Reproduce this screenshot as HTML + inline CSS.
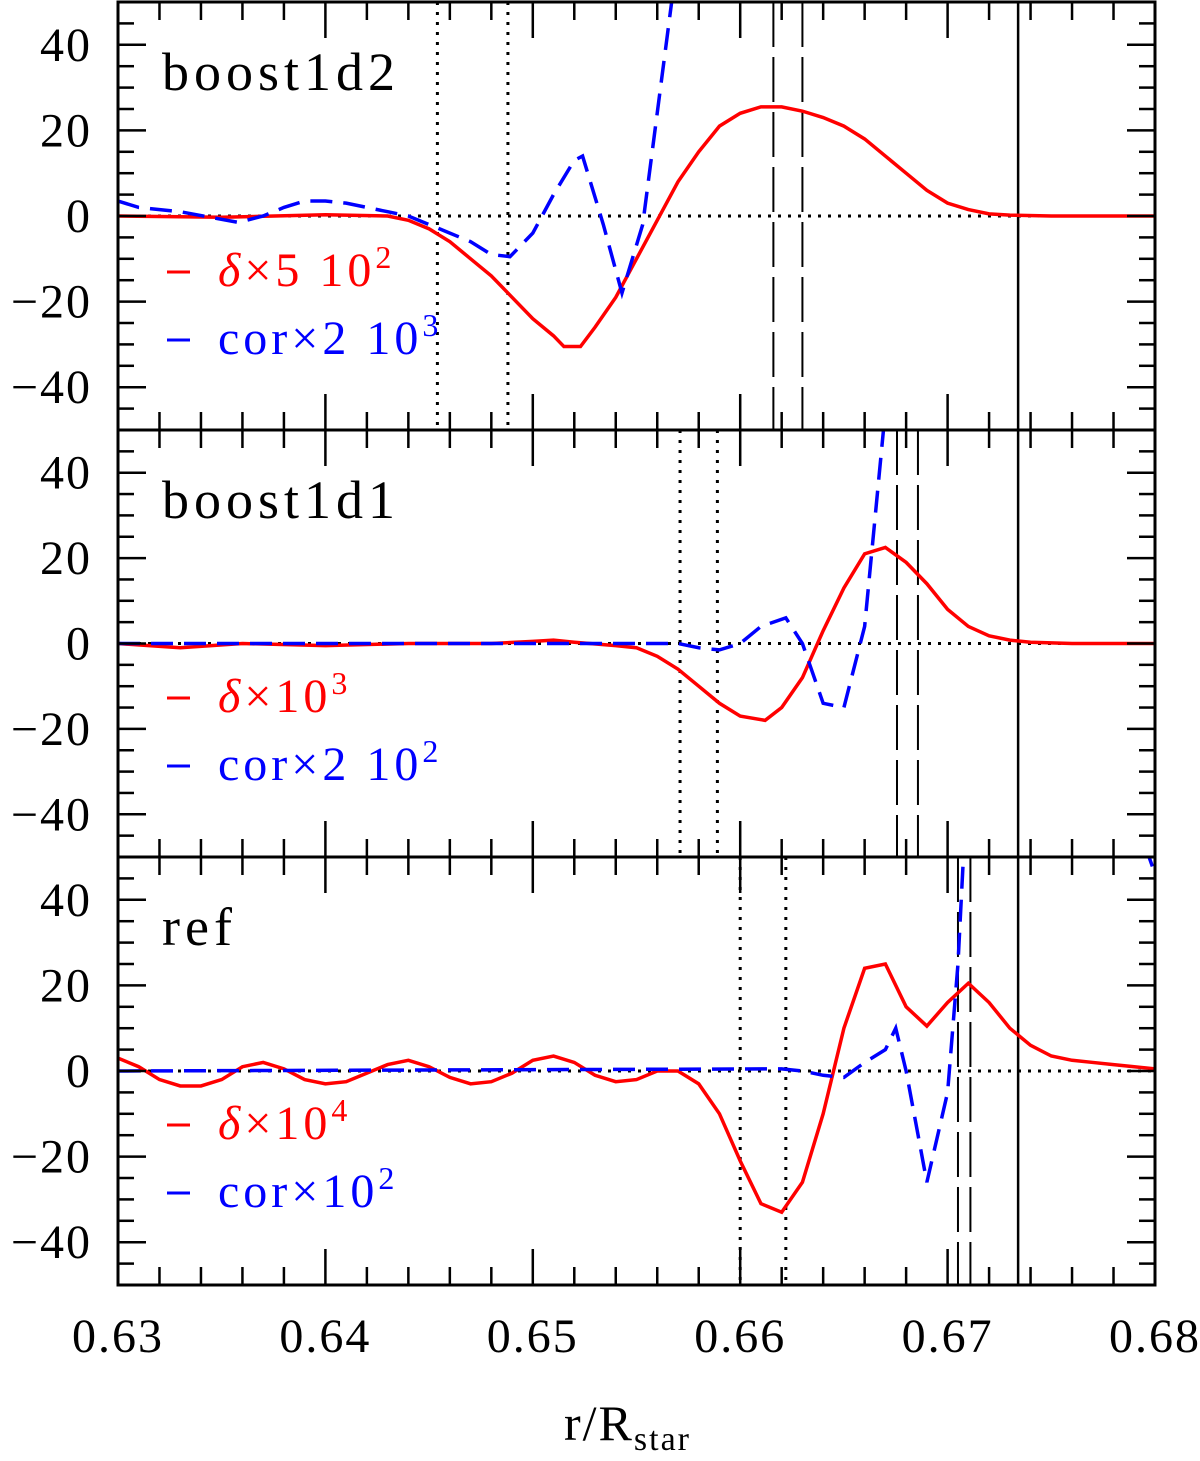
<!DOCTYPE html>
<html><head><meta charset="utf-8"><style>
html,body{margin:0;padding:0;background:#fff}
svg{display:block}
text{font-family:"Liberation Serif",serif}
</style></head><body>
<svg id="chart" width="1200" height="1461" viewBox="0 0 1200 1461" xmlns="http://www.w3.org/2000/svg"></svg>
<script>
// ---- data ----
const topRedR = [0.630,0.635,0.640,0.643,0.644,0.645,0.646,0.647,0.648,0.649,0.650,0.651,0.6515,0.6523,0.653,0.654,0.655,0.656,0.657,0.658,0.659,0.660,0.661,0.662,0.663,0.664,0.665,0.666,0.667,0.668,0.669,0.670,0.671,0.672,0.673,0.675,0.680];
const topRedV = [0,-0.3,0.3,0,-1,-3,-6,-10,-14,-19,-24,-28,-30.5,-30.5,-26,-19,-10,-1,8,15,21,24,25.5,25.5,24.5,23,21,18,14,10,6,3,1.5,0.5,0.2,0,0];
const topBlueR = [0.630,0.631,0.633,0.6358,0.637,0.638,0.639,0.640,0.641,0.642,0.643,0.644,0.645,0.646,0.647,0.648,0.6489,0.650,0.651,0.652,0.6524,0.6534,0.6543,0.6553,0.6575];
const topBlueV = [3.5,2,1,-1.5,0,2,3.5,3.5,3,2,1,0,-2,-4,-6,-9,-9.5,-4,5,13,14,-2,-18,-2,80];
const midRedR = [0.630,0.633,0.636,0.640,0.644,0.648,0.650,0.651,0.652,0.654,0.655,0.656,0.657,0.658,0.659,0.660,0.6612,0.662,0.663,0.664,0.665,0.666,0.667,0.668,0.669,0.670,0.671,0.672,0.673,0.674,0.676,0.680];
const midRedV = [0,-1,0,-0.5,0,0,0.5,0.8,0.3,-0.5,-1,-3,-6,-10,-14,-17,-18,-15,-8,3,13,21,22.5,19,14,8,4,1.8,0.8,0.3,0,0];
const midBlueR = [0.630,0.657,0.658,0.659,0.660,0.661,0.6622,0.663,0.664,0.665,0.666,0.6675];
const midBlueV = [0,0,-1,-1.5,0,4,6,0,-14,-15,4,80];
const botRedR = [0.630,0.631,0.632,0.633,0.634,0.635,0.636,0.637,0.638,0.639,0.640,0.641,0.642,0.643,0.644,0.645,0.646,0.647,0.648,0.649,0.650,0.651,0.652,0.653,0.654,0.655,0.656,0.657,0.658,0.659,0.660,0.661,0.662,0.663,0.664,0.665,0.666,0.667,0.668,0.669,0.670,0.671,0.672,0.673,0.674,0.675,0.676,0.677,0.678,0.679,0.680];
const botRedV = [3,1,-2,-3.5,-3.5,-2,1,2,0.5,-2,-3,-2.5,-0.5,1.5,2.5,1,-1.5,-3,-2.5,-0.5,2.5,3.5,2,-1,-2.5,-2,0,0,-3,-10,-21,-31,-33,-26,-10,10,24,25,15,10.5,16,20.5,16,10,6,3.5,2.5,2,1.5,1,0.5];
const botBlueR = [0.630,0.662,0.663,0.664,0.665,0.666,0.667,0.6675,0.668,0.669,0.670,0.6705,0.6715,0.675,0.679,0.680];
const botBlueV = [0,0.5,0,-1,-1.5,2,5,10,0,-26,-5,25,120,200,60,46];
const panelNames = ["boost1d2","boost1d1","ref"];
const legendRed = [["δ","×5 10","2"],["δ","×10","3"],["δ","×10","4"]];
const legendBlue = [["","cor×2 10","3"],["","cor×2 10","2"],["","cor×10","2"]];
const dottedR = [[0.6454,0.6488],[0.6571,0.6589],[0.6600,0.6622]];
const dashedR = [[0.6616,0.6630],[0.66756,0.66857],[0.6705,0.6711]];
const solidR = [0.6734,0.6734,0.6734];
const xTicks = ["0.63","0.64","0.65","0.66","0.67","0.68"];
const yTicks = [-40,-20,0,20,40];

// ---- layout ----
const NS="http://www.w3.org/2000/svg";
const svg=document.getElementById('chart');
const X0=118,X1=1155,xmin=0.63,xmax=0.68;
const panels=[{top:2,bot:430},{top:430,bot:857},{top:857,bot:1285}];
const xs=r=>X0+(r-xmin)/(xmax-xmin)*(X1-X0);
function mk(tag,attrs,parent){const e=document.createElementNS(NS,tag);for(const k in attrs)e.setAttribute(k,attrs[k]);(parent||svg).appendChild(e);return e;}
const series=[[topRedR,topRedV,topBlueR,topBlueV],[midRedR,midRedV,midBlueR,midBlueV],[botRedR,botRedV,botBlueR,botBlueV]];

panels.forEach((p,i)=>{
  const ys=v=>p.bot-(v+50)/100*(p.bot-p.top);
  const g=mk('g',{});
  
  
  const cp=mk('clipPath',{id:'cp'+i},g);
  mk('rect',{x:X0,y:p.top,width:X1-X0,height:p.bot-p.top},cp);
  const z=mk('line',{x1:X0,x2:X1,y1:ys(0),y2:ys(0),stroke:'#000','stroke-width':3,'stroke-dasharray':'3 7'},g);
  
  
  dottedR[i].forEach(r=>{const l=mk('line',{x1:xs(r),x2:xs(r),y1:p.top,y2:p.bot,stroke:'#000','stroke-width':3,'stroke-dasharray':'3 7'},g);
    
    });
  dashedR[i].forEach(r=>{const l=mk('line',{x1:xs(r),x2:xs(r),y1:p.top,y2:p.bot,stroke:'#000','stroke-width':2,'stroke-dasharray':'45 10'},g);
    
    });
  const sl=mk('line',{x1:xs(solidR[i]),x2:xs(solidR[i]),y1:p.top,y2:p.bot,stroke:'#000','stroke-width':2.5},g);
  
  
  const [rr,rv,br,bv]=series[i];
  const rp=mk('polyline',{points:rr.map((r,k)=>xs(r)+','+ys(rv[k])).join(' '),fill:'none',stroke:'#ff0000','stroke-width':3.5,'clip-path':'url(#cp'+i+')'},g);
  
  
  const bp=mk('polyline',{points:br.map((r,k)=>xs(r)+','+ys(bv[k])).join(' '),fill:'none',stroke:'#0000ff','stroke-width':3.5,'stroke-dasharray':'22 11','clip-path':'url(#cp'+i+')'},g);
  
  
  for(let v=-50;v<=50;v+=5){const y=ys(v);const maj=v%20===0;const L=maj?28:16;
    mk('line',{x1:X0,x2:X0+L,y1:y,y2:y,stroke:'#000','stroke-width':2.5},g);
    mk('line',{x1:X1-L,x2:X1,y1:y,y2:y,stroke:'#000','stroke-width':2.5},g);}
  for(let k=0;k<=25;k++){const x=xs(xmin+k*0.002);const maj=k%5===0;const L=maj?36:18;
    mk('line',{x1:x,x2:x,y1:p.top,y2:p.top+L,stroke:'#000','stroke-width':2.5},g);
    mk('line',{x1:x,x2:x,y1:p.bot-L,y2:p.bot,stroke:'#000','stroke-width':2.5},g);}
  yTicks.forEach(v=>{const t=mk('text',{x:92,y:ys(v)+16,'text-anchor':'end','font-size':48,'letter-spacing':2},g);
    t.textContent=(v<0?'\u2212':'')+Math.abs(v);
    
    });
  const frame=mk('rect',{x:X0,y:p.top,width:X1-X0,height:p.bot-p.top,fill:'none',stroke:'#000','stroke-width':3},g);
  
  
  const nm=mk('text',{x:162,y:p.top+88,'font-size':54,'letter-spacing':5},g);
  nm.textContent=panelNames[i];
  
  
  [[legendRed[i],'#ff0000',284],[legendBlue[i],'#0000ff',352]].forEach(([lg,col,dy])=>{
    const y=p.top+dy-(i===0?0:2);
    mk('line',{x1:167,x2:190,y1:y-14,y2:y-14,stroke:col,'stroke-width':3},g);
    const t=mk('text',{x:218,y:y,'font-size':48,'letter-spacing':4,fill:col},g);
    
    
    if(lg[0]){const s=mk('tspan',{'font-style':'italic'},t);s.textContent=lg[0];}
    const s2=mk('tspan',{},t);s2.textContent=lg[1];
    const s3=mk('tspan',{dy:-18,'font-size':32},t);s3.textContent=lg[2];
  });
});
xTicks.forEach((s,k)=>{const t=mk('text',{x:xs(xmin+k*0.01),y:1352,'text-anchor':'middle','font-size':48,'letter-spacing':2});
  t.textContent=s;
  
  });
const xt=mk('text',{x:564,y:1440,'font-size':50,'letter-spacing':2});


xt.appendChild(document.createTextNode('r/R'));
const sub=mk('tspan',{dy:10,'font-size':34},xt);sub.textContent='star';
</script>
</body></html>
